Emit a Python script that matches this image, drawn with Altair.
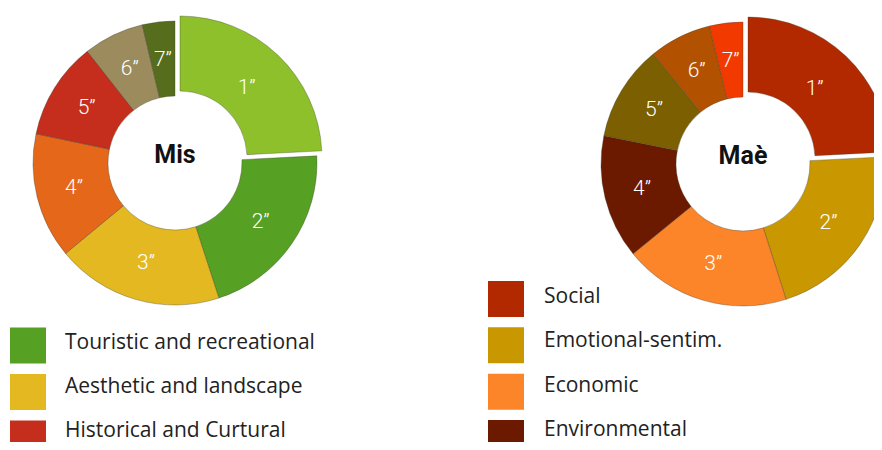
import math
import altair as alt
import pandas as pd

# ---- data ----
segments = ["1”", "2”", "3”", "4”", "5”", "6”", "7”"]
segment_order = [1, 2, 3, 4, 5, 6, 7]
mis_values = [24.2, 20.8, 19.0, 14.3, 11.1, 6.9, 3.7]
mae_values = [24.2, 20.9, 19.0, 14.1, 10.9, 7.1, 3.8]

mis_colors = ["#8dc02a", "#56a023", "#e3b821", "#e5681a", "#c52e1c", "#9b8b5d", "#566d1d"]
mae_colors = ["#b22900", "#c99700", "#fc8529", "#6b1a00", "#7b5f00", "#b25200", "#f23a00"]

mis_legend_labels = ["Touristic and recreational", "Aesthetic and landscape", "Historical and Curtural"]
mis_legend_colors = ["#56a023", "#e3b821", "#c52e1c"]
mae_legend_labels = ["Social", "Emotional-sentim.", "Economic", "Environmental"]
mae_legend_colors = ["#b22900", "#c99700", "#fc8529", "#6b1a00"]

FONT = "Roboto"
LEGEND_FONT = "Open Sans"


def donut(values, colors, title, cx, cy, ex, ey):
    df = pd.DataFrame({"seg": segments, "idx": segment_order, "value": values})
    base = (
        alt.Chart(df)
        .transform_window(cum="sum(value)", sort=[alt.SortField("idx")], frame=[None, 0])
        .transform_calculate(start="datum.cum - datum.value", mid="datum.cum - datum.value / 2")
    )
    tscale = alt.Scale(domain=[0, 100], range=[0, 2 * math.pi])
    color = alt.Color("seg:N", scale=alt.Scale(domain=segments, range=colors), legend=None)
    arc_kw = dict(radius=142, radius2=67, stroke="#3c3c2c", strokeOpacity=0.35, strokeWidth=1)
    rest = base.transform_filter("datum.idx > 1").mark_arc(**arc_kw).encode(
        theta=alt.Theta("start:Q", scale=tscale),
        theta2="cum:Q",
        color=color,
        x=alt.value(cx),
        y=alt.value(cy),
    )
    first = base.transform_filter("datum.idx == 1").mark_arc(**arc_kw).encode(
        theta=alt.Theta("start:Q", scale=tscale),
        theta2="cum:Q",
        color=color,
        x=alt.value(cx + ex),
        y=alt.value(cy + ey),
    )
    labels = base.mark_text(
        radius=104, font=FONT, fontSize=21, fontWeight=300, color="white",
        align="center", baseline="middle",
    ).encode(
        theta=alt.Theta("mid:Q", scale=tscale),
        text="seg:N",
        x=alt.value(cx),
        y=alt.value(cy),
    )
    center = alt.Chart(pd.DataFrame({"t": [title]})).mark_text(
        font=FONT, fontSize=25, fontWeight="bold", color="#111",
        align="center", baseline="middle",
    ).encode(text="t:N", x=alt.value(cx), y=alt.value(cy - 8))
    return [rest, first, labels, center]


def legend(labels, colors, sq_x, text_x, sq_range, text_range):
    n = len(labels)
    df = pd.DataFrame({"label": labels, "row": list(range(n))})
    sq = alt.Chart(df).mark_square(size=36 * 36, opacity=1).encode(
        x=alt.value(sq_x),
        y=alt.Y("row:Q", scale=alt.Scale(domain=[0, n - 1], range=sq_range, nice=False, zero=False), axis=None),
        color=alt.Color("label:N", scale=alt.Scale(domain=labels, range=colors), legend=None),
    )
    tx = alt.Chart(df).mark_text(
        font=LEGEND_FONT, fontSize=21, color="#222", align="left", baseline="middle",
    ).encode(
        x=alt.value(text_x),
        y=alt.Y("row:Q", scale=alt.Scale(domain=[0, n - 1], range=text_range, nice=False, zero=False), axis=None),
        text="label:N",
    )
    return [sq, tx]


layers = []
layers += donut(mis_values, mis_colors, "Mis", 167, 155, 5, -5)
layers += donut(mae_values, mae_colors, "Maè", 735, 156, 5, -5)
layers += legend(mis_legend_labels, mis_legend_colors, 20, 57, [337.5, 430.5], [334.5, 422.5])
layers += legend(mae_legend_labels, mae_legend_colors, 498, 536, [291, 430], [288.5, 422])

chart = (
    alt.layer(*layers)
    .resolve_scale(theta="independent", color="independent", y="independent")
    .properties(width=866, height=434, autosize="none", padding=0, background="white")
    .configure_view(stroke=None)
)

chart.save("out.html", embed_options={"renderer": "svg", "actions": False})
